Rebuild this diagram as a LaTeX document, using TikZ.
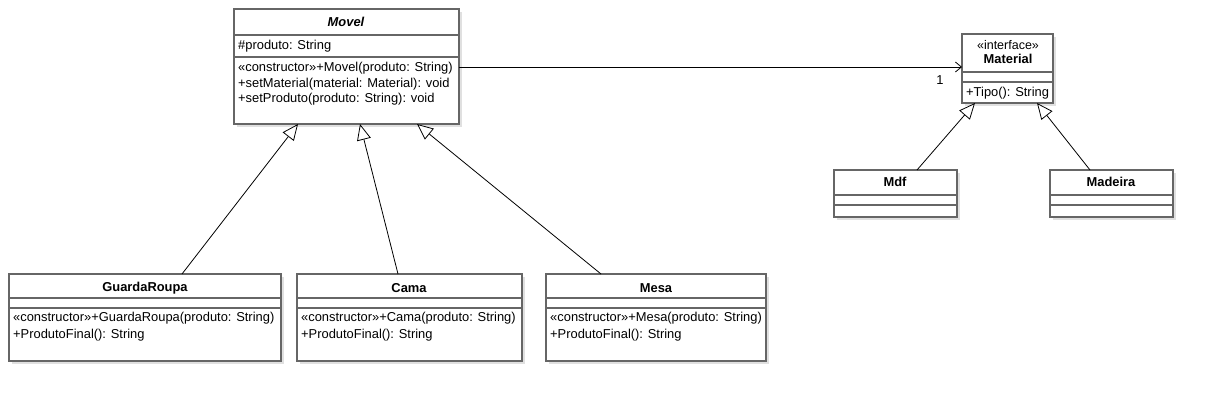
\documentclass[tikz,border=0pt]{standalone}
\usepackage{fontspec}
\setmainfont{Liberation Sans}
\usetikzlibrary{arrows.meta,calc,shadows}
\definecolor{bordc}{RGB}{102,102,102}
\begin{document}
\begin{tikzpicture}[x=1pt,y=1pt,
  cls/.style={draw=bordc, line width=1.3pt, fill=white, anchor=north west, inner sep=0pt, outer sep=0pt,
    drop shadow={shadow xshift=3pt, shadow yshift=-3pt, opacity=0.12, fill=black}},
  sep/.style={draw=bordc, line width=1.3pt},
  txt/.style={font=\fontsize{12.9}{15}\selectfont, inner sep=0pt, anchor=west},
  ttl/.style={font=\fontsize{12.9}{15}\selectfont\bfseries, inner sep=0pt},
  inh/.style={draw=black, line width=0.8pt, -{Triangle[open, length=16pt, width=14pt, fill=white]}},
  assoc/.style={draw=black, line width=0.8pt, -{Straight Barb[length=6pt, width=10pt]}},
]
\path[use as bounding box, fill=white] (0,0) rectangle (1213,-401);

% class boxes
\node[cls, minimum width=225pt, minimum height=115pt] (movel) at (234,-9) {};
\node[cls, minimum width=91pt, minimum height=69pt] (material) at (962,-34) {};
\node[cls, minimum width=123pt, minimum height=47pt] (mdf) at (834,-170) {};
\node[cls, minimum width=123pt, minimum height=47pt] (madeira) at (1050,-170) {};
\node[cls, minimum width=272pt, minimum height=87pt] (guarda) at (9,-274) {};
\node[cls, minimum width=225pt, minimum height=87pt] (cama) at (297,-274) {};
\node[cls, minimum width=220pt, minimum height=87pt] (mesa) at (546,-274) {};

% separators
\foreach \n/\a/\b in {movel/26/48, material/38/48, mdf/25/35, madeira/25/35, guarda/24/34, cama/24/34, mesa/24/34}{
  \draw[sep] ($(\n.north west)+(0,-\a)$) -- ($(\n.north east)+(0,-\a)$);
  \draw[sep] ($(\n.north west)+(0,-\b)$) -- ($(\n.north east)+(0,-\b)$);
}

% Movel
\node[ttl] (movelT) at (346,-22) {\itshape Movel};
\node[txt] (movelA) at (238,-46) {\#produto: String};
\node[txt] (movelM1) at (238,-68) {«constructor»+Movel(produto: String)};
\node[txt] (movelM2) at (238,-84) {+setMaterial(material: Material): void};
\node[txt] (movelM3) at (238,-99) {+setProduto(produto: String): void};

% Material
\node[inner sep=0pt, font=\fontsize{12.5}{14}\selectfont] (materialS) at (1008,-45) {«interface»};
\node[ttl] (materialT) at (1008,-59) {Material};
\node[txt] (materialM) at (966,-93) {+Tipo(): String};

% Mdf, Madeira
\node[ttl] (mdfT) at (895,-182) {Mdf};
\node[ttl] (madeiraT) at (1111,-182) {Madeira};

% GuardaRoupa
\node[ttl] (guardaT) at (145,-288) {GuardaRoupa};
\node[txt] (guardaM1) at (13,-318) {«constructor»+GuardaRoupa(produto: String)};
\node[txt] (guardaM2) at (13,-335) {+ProdutoFinal(): String};

% Cama
\node[ttl] (camaT) at (409,-288) {Cama};
\node[txt] (camaM1) at (301,-318) {«constructor»+Cama(produto: String)};
\node[txt] (camaM2) at (301,-335) {+ProdutoFinal(): String};

% Mesa
\node[ttl] (mesaT) at (656,-288) {Mesa};
\node[txt] (mesaM1) at (550,-318) {«constructor»+Mesa(produto: String)};
\node[txt] (mesaM2) at (550,-335) {+ProdutoFinal(): String};

% connectors
\draw[inh] ($(guarda.north west)+(173,0)$) -- ($(movel.south west)+(64,0)$);
\draw[inh] ($(cama.north west)+(101,0)$) -- ($(movel.south west)+(126,0)$);
\draw[inh] ($(mesa.north west)+(55,0)$) -- ($(movel.south west)+(183,0)$);
\draw[inh] ($(mdf.north west)+(83,0)$) -- ($(material.south west)+(13,0)$);
\draw[inh] ($(madeira.north west)+(40,0)$) -- ($(material.south west)+(75,0)$);
\draw[assoc] ($(movel.north east)+(0,-58)$) -- ($(material.north west)+(0,-33)$);
\node[txt, anchor=center] (one) at (940,-80) {1};
\end{tikzpicture}
\end{document}
